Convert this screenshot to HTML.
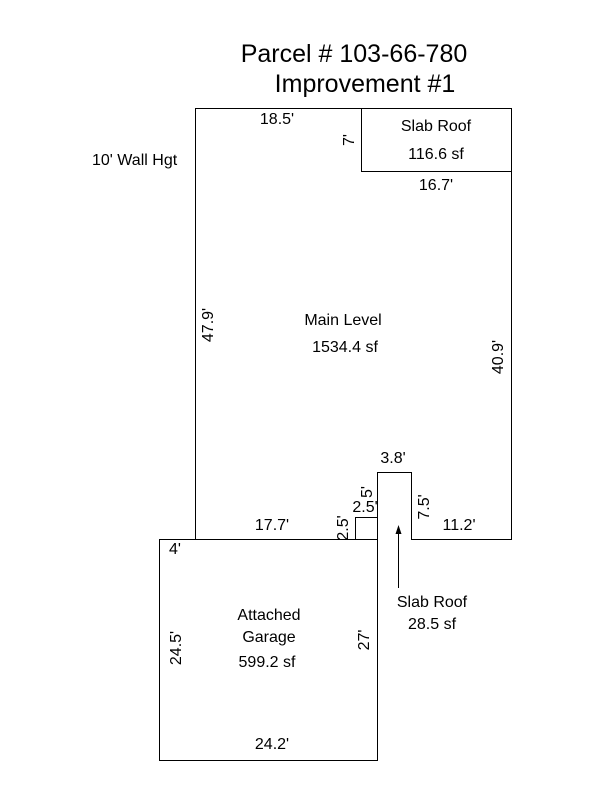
<!DOCTYPE html>
<html><head><style>html,body{margin:0;padding:0;background:#fff}svg{display:block}</style></head><body>
<svg width="600" height="800" xmlns="http://www.w3.org/2000/svg" font-family="Liberation Sans, Arial, sans-serif" fill="#000">
<g fill="none" stroke="#000" stroke-width="1">
<path d="M195.5 108.5 H511.5 V539.5 H411.5 V472.5 H377.5 V517.5 H355.5 V539.5 H195.5 Z"/>
<path d="M361.5 108.5 V171.5 H511.5"/>
<path d="M377.5 539.5 V472.5"/>
<path d="M159.5 539.5 H377.5 V760.5 H159.5 Z"/>
<path d="M398.5 588 V530"/>
</g>
<path d="M398.5 525 L395.5 534 L401.5 534 Z"/>
<text x="354" y="62" font-size="25" text-anchor="middle">Parcel # 103-66-780</text>
<text x="365" y="92" font-size="25" text-anchor="middle">Improvement #1</text>
<g font-size="16">
<text x="92" y="165">10' Wall Hgt</text>
<text x="277" y="124" text-anchor="middle">18.5'</text>
<text x="436" y="131" text-anchor="middle">Slab Roof</text>
<text x="436" y="159" text-anchor="middle">116.6 sf</text>
<text x="436" y="190" text-anchor="middle">16.7'</text>
<text x="343" y="325" text-anchor="middle">Main Level</text>
<text x="345" y="352" text-anchor="middle">1534.4 sf</text>
<text x="393" y="463" text-anchor="middle">3.8'</text>
<text x="365" y="512" text-anchor="middle">2.5'</text>
<text x="459" y="530" text-anchor="middle">11.2'</text>
<text x="272" y="530" text-anchor="middle">17.7'</text>
<text x="175" y="554" text-anchor="middle">4'</text>
<text x="269" y="620" text-anchor="middle">Attached</text>
<text x="269" y="642" text-anchor="middle">Garage</text>
<text x="267" y="667" text-anchor="middle">599.2 sf</text>
<text x="272" y="749" text-anchor="middle">24.2'</text>
<text x="432" y="607" text-anchor="middle">Slab Roof</text>
<text x="432" y="629" text-anchor="middle">28.5 sf</text>
<text transform="translate(213,325) rotate(-90)" text-anchor="middle">47.9'</text>
<text transform="translate(503,357) rotate(-90)" text-anchor="middle">40.9'</text>
<text transform="translate(354,140) rotate(-90)" text-anchor="middle">7'</text>
<text transform="translate(181,648) rotate(-90)" text-anchor="middle">24.5'</text>
<text transform="translate(369,640) rotate(-90)" text-anchor="middle">27'</text>
<text transform="translate(348,528) rotate(-90)" text-anchor="middle">2.5'</text>
<text transform="translate(372,492) rotate(-90)" text-anchor="middle">5'</text>
<text transform="translate(429,507) rotate(-90)" text-anchor="middle">7.5'</text>
</g>
</svg>
</body></html>
